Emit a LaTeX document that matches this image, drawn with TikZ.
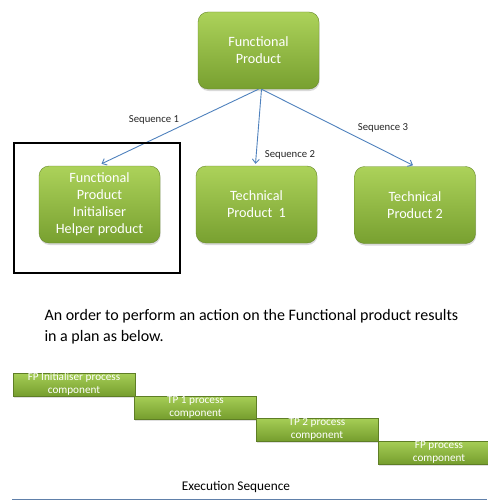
\documentclass[tikz,border=0pt]{standalone}
\usepackage{fontspec}
\setmainfont{Carlito}
\usetikzlibrary{arrows.meta,shadows}

\definecolor{boxtop}{RGB}{172,210,90}
\definecolor{boxbot}{RGB}{120,160,48}
\definecolor{bartop}{RGB}{166,206,86}
\definecolor{barbot}{RGB}{118,158,46}
\definecolor{seqblue}{RGB}{79,129,189}
\definecolor{rulecol}{RGB}{96,128,170}

\tikzset{
  prodbox/.style={draw=boxbot!85!black,line width=0.4pt,rounded corners=10pt,
    top color=boxtop,bottom color=boxbot,minimum width=121pt,minimum height=77pt,
    text=white,align=center,font=\fontsize{14.2}{17}\selectfont,
    drop shadow={opacity=0.3,shadow xshift=0.6pt,shadow yshift=-2pt}},
  procbar/.style={draw=barbot!80!black,line width=0.3pt,top color=bartop,
    bottom color=barbot,minimum width=122pt,minimum height=23pt,inner ysep=0pt,
    text=white,align=center,font=\fontsize{11.2}{13}\selectfont,
    drop shadow={opacity=0.25,shadow xshift=0.6pt,shadow yshift=-1.5pt}},
  seqarrow/.style={-{Straight Barb[length=4pt,width=7pt]},seqblue,line width=0.9pt},
  seqlabel/.style={font=\fontsize{10.7}{12}\selectfont,text=black!85}
}

\begin{document}
\begin{tikzpicture}[x=1pt,y=-1pt]
  \useasboundingbox (0,0) rectangle (487,503);
  % product tree
  \node[prodbox] (fp) at (258.5,50.5) {Functional\\Product};
  \node[prodbox] (fpi) at (99.5,204.5) {Functional\\Product\\Initialiser\\Helper product};
  \node[prodbox] (tp1) at (256.5,204.5) {Technical\\Product~~1};
  \node[prodbox] (tp2) at (415,205) {Technical\\Product 2};
  \draw[seqarrow] (fp.south) -- ([xshift=2pt,yshift=2pt]fpi.north);
  \draw[seqarrow] ([xshift=3pt]fp.south) -- ([xshift=-1pt,yshift=2pt]tp1.north);
  \draw[seqarrow] ([xshift=3pt]fp.south) -- ([xshift=-2pt,yshift=1pt]tp2.north);
  \node[seqlabel] (s1) at (154,120) {Sequence 1};
  \node[seqlabel] (s2) at (290,155) {Sequence 2};
  \node[seqlabel] (s3) at (383,128) {Sequence 3};
  % highlight round the helper product
  \draw[line width=2.5pt] (14,143) rectangle (180,273);
  % plan
  \node[anchor=north west,align=left,font=\fontsize{16}{20.5}\selectfont] (note) at (41,306)
    {An order to perform an action on the Functional product results\\in a plan as below.};
  \node[procbar] (b1) at (74,384.5) {FP Initialiser process\\component};
  \node[procbar] (b2) at (195.5,407.5) {TP 1 process\\component};
  \node[procbar] (b3) at (317,429.5) {TP 2 process\\component};
  \node[procbar] (b4) at (439,452.5) {FP process\\component};
  \node[font=\fontsize{13.3}{15}\selectfont] (exec) at (236,487) {Execution Sequence};
  \draw[rulecol,line width=1pt] (12,499) -- (487,499);
\end{tikzpicture}
\end{document}
